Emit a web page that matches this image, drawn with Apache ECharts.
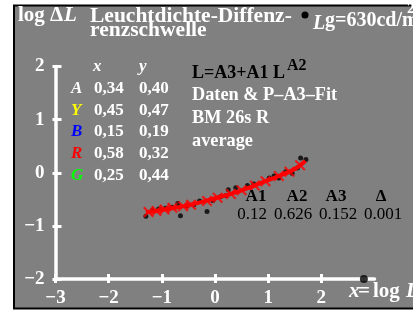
<!DOCTYPE html>
<html><head><meta charset="utf-8">
<script src="https://cdn.jsdelivr.net/npm/echarts@6/dist/echarts.min.js"></script>
<style>html,body{margin:0;padding:0;background:#fff;}#c{width:413px;height:311px;}</style>
</head><body><div id="c"></div>
<script>
// ---- data ----
const xTicks = [-3, -2, -1, 0, 1, 2];
const yTicks = [-2, -1, 0, 1, 2];
const dataX = [-1.30, -1.18, -1.06, -0.93, -0.81, -0.70, -0.65, -0.53, -0.40, -0.29, -0.15, -0.04, 0.10, 0.21, 0.25, 0.39, 0.61, 0.73, 1.02, 1.11, 1.20, 1.33, 1.45, 1.55, 1.61, 1.71];
const dataY = [-0.82, -0.71, -0.68, -0.67, -0.65, -0.58, -0.81, -0.62, -0.60, -0.53, -0.73, -0.52, -0.45, -0.43, -0.32, -0.28, -0.24, -0.21, -0.10, -0.06, -0.10, 0.02, -0.01, 0.09, 0.28, 0.25];
const fitX = [-1.3, -1.0, -0.5, 0.0, 0.5, 1.0, 1.3, 1.5, 1.7];
const fitY = [-0.75, -0.70, -0.61, -0.48, -0.33, -0.14, -0.02, 0.07, 0.22];
const crossX = [-1.25, -1.1, -0.95, -0.8, -0.6, -0.45, -0.15, 0.05, 0.3, 0.5, 0.75, 0.95, 1.2, 1.4, 1.6];
const crossY = [-0.74, -0.72, -0.69, -0.66, -0.63, -0.60, -0.53, -0.47, -0.40, -0.33, -0.24, -0.16, -0.06, 0.02, 0.14];
const axisDot = [2.8, -2];
const legendLetters = ['A', 'Y', 'B', 'R', 'G'];
const legendColors = ['#ffffff', '#ffff00', '#0000ff', '#ff0000', '#00ff00'];
const legendXs = ['0,34', '0,45', '0,15', '0,58', '0,25'];
const legendYs = ['0,40', '0,47', '0,19', '0,32', '0,44'];
const infoLines = ['Daten & P\u2013A3\u2013Fit', 'BM 26s R', 'average'];
const paramNames = ['A1', 'A2', 'A3', '\u0394'];
const paramValues = ['0.12', '0.626', '0.152', '0.001'];

// ---- chart ----
const FF = '"Liberation Serif","Times New Roman",serif';
const fmt = v => String(v).replace('-', '\u2212');
const zip = (a, b) => a.map((v, i) => [v, b[i]]);
const crossPath = 'path://M0,1.4L1.4,0L5,3.6L8.6,0L10,1.4L6.4,5L10,8.6L8.6,10L5,6.4L1.4,10L0,8.6L3.6,5Z';

function txt(x, y, text, font, fill, align) {
  return { type: 'text', x: x, y: y, z: 100,
    style: { text: text, font: font, fill: fill, align: align || 'left', textAlign: align || 'left',
      verticalAlign: 'middle', textVerticalAlign: 'middle' } };
}
const B17 = 'bold 17px ' + FF, BI17 = 'italic bold 17px ' + FF;
const B18 = 'bold 18px ' + FF;
const graphics = [
  { type: 'rect', z: -100, shape: { x: 14, y: 5.5, width: 420, height: 303 },
    style: { fill: '#808080', stroke: '#000', lineWidth: 2 } },
  txt(18, 16, 'log \u0394', 'bold 21px ' + FF, '#fff'),
  txt(64, 16, 'L', 'italic bold 21px ' + FF, '#fff'),
  txt(90, 16, 'Leuchtdichte-Diffenz-', 'bold 21.5px ' + FF, '#fff'),
  txt(90, 30.5, 'renzschwelle', 'bold 21.5px ' + FF, '#fff'),
  { type: 'circle', z: 100, shape: { cx: 305, cy: 15, r: 3.5 }, style: { fill: '#000' } },
  txt(313, 24, 'L', 'italic bold 20px ' + FF, '#fff'),
  txt(325, 21, 'g=630cd/m', 'bold 20px ' + FF, '#fff'),
  txt(407, 9, '2', 'bold 15px ' + FF, '#fff'),
  txt(93, 67, 'x', BI17, '#fff'),
  txt(139, 67, 'y', BI17, '#fff'),
  txt(192, 73, 'L=A3+A1 L', B18, '#000'),
  txt(287, 66, 'A2', 'bold 16px ' + FF, '#000'),
  txt(349, 292, 'x', 'italic bold 21px ' + FF, '#fff'),
  txt(358, 292, '=', 'bold 21px ' + FF, '#fff'),
  txt(373, 292, 'log', 'bold 21px ' + FF, '#fff'),
  txt(406, 292, 'L', 'italic bold 21px ' + FF, '#fff')
];
const rowY = [89, 111, 132, 154, 176];
legendLetters.forEach((l, i) => {
  graphics.push(txt(71, rowY[i], l, BI17, legendColors[i]));
  graphics.push(txt(94, rowY[i], legendXs[i], B17, '#fff'));
  graphics.push(txt(139, rowY[i], legendYs[i], B17, '#fff'));
});
infoLines.forEach((t, i) => graphics.push(txt(192, 95 + i * 23, t, 'bold 18.3px ' + FF, '#fff')));
const nameX = [256, 297, 336, 381], valX = [252, 293, 338, 383];
paramNames.forEach((t, i) => graphics.push(txt(nameX[i], 197, t, B17, '#000', 'center')));
paramValues.forEach((t, i) => graphics.push(txt(valX[i], 215, t, '17px ' + FF, '#000', 'center')));

const axisCommon = { splitLine: { show: false } };
const chart = echarts.init(document.getElementById('c'), null, { renderer: 'canvas' });
chart.setOption({
  animation: false,
  grid: { left: 55.5, right: 38.5, top: 66.5, bottom: 32, containLabel: false },
  xAxis: [
    Object.assign({ type: 'value', min: -3, max: 3, interval: 1, position: 'bottom',
      axisLine: { onZero: false, lineStyle: { color: '#fff', width: 3.5 } },
      axisTick: { customValues: xTicks, length: 4, lineStyle: { color: '#fff', width: 3 } },
      axisLabel: { customValues: xTicks, formatter: fmt, color: '#fff', fontSize: 19, fontWeight: 'bold', fontFamily: FF, margin: 10 } }, axisCommon),
    Object.assign({ type: 'value', min: -3, max: 3, interval: 1, position: 'bottom',
      axisLine: { show: false, onZero: false },
      axisTick: { customValues: xTicks, inside: true, length: 5, lineStyle: { color: '#fff', width: 3 } },
      axisLabel: { show: false } }, axisCommon)
  ],
  yAxis: [
    Object.assign({ type: 'value', min: -2, max: 2, interval: 1, position: 'left',
      axisLine: { show: true, onZero: false, lineStyle: { color: '#fff', width: 3.5 } },
      axisTick: { show: true, customValues: yTicks, length: 3, lineStyle: { color: '#fff', width: 3 } },
      axisLabel: { customValues: yTicks, formatter: fmt, color: '#fff', fontSize: 19, fontWeight: 'bold', fontFamily: FF, margin: 11 } }, axisCommon),
    Object.assign({ type: 'value', min: -2, max: 2, interval: 1, position: 'left',
      axisLine: { show: false, onZero: false },
      axisTick: { show: true, customValues: yTicks, inside: true, length: 6, lineStyle: { color: '#fff', width: 3 } },
      axisLabel: { show: false } }, axisCommon)
  ],
  graphic: graphics,
  series: [
    { type: 'scatter', data: zip(dataX, dataY), symbol: 'circle', symbolSize: 5,
      itemStyle: { color: '#000' }, z: 3 },
    { type: 'line', data: zip(fitX, fitY), smooth: true, showSymbol: false,
      lineStyle: { color: '#ff0000', width: 4 }, z: 4 },
    { type: 'scatter', data: zip(crossX, crossY), symbol: crossPath, symbolSize: 11,
      itemStyle: { color: '#ff0000' }, z: 5 },
    { type: 'scatter', data: [axisDot], symbol: 'circle', symbolSize: 8,
      itemStyle: { color: '#000' }, z: 6 }
  ]
});
</script></body></html>
